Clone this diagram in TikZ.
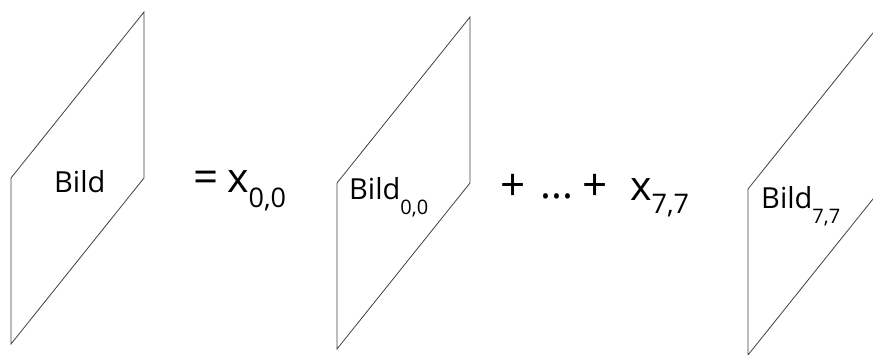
\documentclass[tikz,border=0pt]{standalone}
\usepackage{fontspec}
\setmainfont{Open Sans}
% lowered index of a label: #1 size, #2 drop, #3 text
\newcommand{\idx}[3]{\raisebox{-#2}{\fontsize{#1}{#1}\selectfont #3}}
\begin{document}
\begin{tikzpicture}[x=1pt, y=-1pt,
    lbl/.style={font=\fontsize{29}{32}\selectfont, inner sep=0pt, anchor=base west},
    sym/.style={font=\fontsize{41}{44}\selectfont, inner sep=0pt, anchor=base west},
    op/.style={font=\fontsize{44}{48}\selectfont, inner sep=0pt, anchor=base west},
    plane/.style={draw=black!75, line width=0.8pt}]
    % Fix the page size and cut off what runs over the edge
    \useasboundingbox (0,0) rectangle (873,354);
    \clip (0,0) rectangle (873,354);

    % Draw the three image planes
    \foreach \x/\y in {11/178, 337/183, 748/189} {
        \draw[plane] (\x,\y) -- ++(133,-166) -- ++(0,166) -- ++(-133,166) -- cycle;
    }

    % Labels of the planes
    \node[lbl] (bild) at (54,192) {Bild};
    \node[lbl] (bild00) at (349,199) {Bild\idx{20}{15pt}{0,0}};
    \node[lbl] (bild77) at (761,208) {Bild\idx{20}{15pt}{7,7}};

    % Coefficients of the sum
    \node[op] (eq) at (193,192) {=};
    \node[sym] (x00) at (227,192) {x\idx{27}{15pt}{0,0}};
    \node[op] (plus1) at (500,200) {+};
    \node[sym] (dots) at (540,198) {...};
    \node[op] (plus2) at (582,200) {+};
    \node[sym] (x77) at (630,200) {x\idx{27}{13pt}{7,7}};
\end{tikzpicture}
\end{document}
